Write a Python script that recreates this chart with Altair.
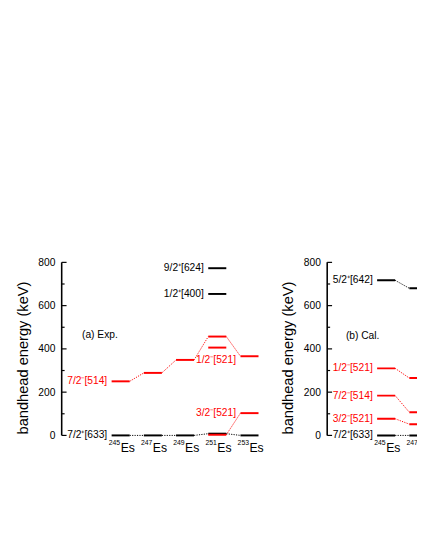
import altair as alt
import pandas as pd

FONT = "Liberation Sans"
RED = "#ff0000"
BLACK = "#000000"

# ---------------- data ----------------
NUCLEI_A = ["245", "247", "249", "251", "253"]
NUCLEI_B = ["245", "247"]

# (a) Exp.  bandhead energies (keV); None = level not shown
EXP_633 = [0, 0, 0, 8, 0]            # 7/2+[633]
EXP_514 = [250, 289, 349, 457, 366]  # 7/2-[514] chain
EXP_521_3 = [None, None, None, 3, 103]  # 3/2-[521]
EXP_EXTRA = [None, None, None, 406, None]
EXP_624 = [None, None, None, 773, None]  # 9/2+[624]
EXP_400 = [None, None, None, 654, None]  # 1/2+[400]

# (b) Cal.
CAL_642 = [717, 680]   # 5/2+[642]
CAL_521_1 = [310, 265]  # 1/2-[521]
CAL_514 = [184, 107]   # 7/2-[514]
CAL_521_3 = [77, 52]   # 3/2-[521]
CAL_633 = [0, 0]       # 7/2+[633]

# series: (label, values, colour, index of labelled level or None, connected)
SERIES_A = [
    ("7/2⁺[633]", EXP_633, BLACK, 0, True),
    ("7/2⁻[514]", EXP_514, RED, 0, True),
    ("", EXP_EXTRA, RED, None, False),
    ("3/2⁻[521]", EXP_521_3, RED, 4, True),
    ("9/2⁺[624]", EXP_624, BLACK, 3, False),
    ("1/2⁺[400]", EXP_400, BLACK, 3, False),
]
NOTES_A = [("1/2⁻[521]", 4, 349, RED)]

SERIES_B = [
    ("5/2⁺[642]", CAL_642, BLACK, 0, True),
    ("7/2⁺[633]", CAL_633, BLACK, 0, True),
    ("1/2⁻[521]", CAL_521_1, RED, 0, True),
    ("7/2⁻[514]", CAL_514, RED, 0, True),
    ("3/2⁻[521]", CAL_521_3, RED, 0, True),
]

MAJOR_TICKS = [0, 200, 400, 600, 800]
MINOR_TICKS = [100, 300, 500, 700]

HALF = 0.28
X_MIN = -1.83
Y_MIN = -80
Y_MAX = 800
PLOT_H = 195


def build_panel(nuclei, series, notes, tag, tag_xy, width, x_max, clip):
    lv, cn, lb = [], [], []
    for name, vals, col, lab_i, conn in series:
        for i, v in enumerate(vals):
            if v is None:
                continue
            lv.append({"x1": i - HALF, "x2": i + HALF, "e": v, "c": col})
        if conn:
            for i in range(len(vals) - 1):
                if vals[i] is None or vals[i + 1] is None:
                    continue
                cn.append({"x1": i + HALF, "x2": i + 1 - HALF,
                           "e1": vals[i], "e2": vals[i + 1], "c": col})
        if lab_i is not None:
            lb.append({"x": lab_i - HALF, "e": vals[lab_i], "t": name, "c": col})
    for t, i, e, col in notes:
        lb.append({"x": i - HALF, "e": e, "t": t, "c": col})
    lv, cn, lb = pd.DataFrame(lv), pd.DataFrame(cn), pd.DataFrame(lb)
    nu = pd.DataFrame({"x": list(range(len(nuclei))), "sup": nuclei, "el": ["Es"] * len(nuclei)})

    xs = alt.Scale(domain=[X_MIN, x_max], nice=False, zero=False)
    ys = alt.Scale(domain=[Y_MIN, Y_MAX], nice=False, zero=False)
    yax = alt.Axis(values=MAJOR_TICKS, domain=False, ticks=False, grid=False,
                   labelFont=FONT, labelFontSize=10.5, labelColor=BLACK, labelPadding=7,
                   title="bandhead energy (keV)", titleFont=FONT, titleFontSize=15,
                   titleFontWeight="normal", titleColor=BLACK, titlePadding=8, format="d")
    X = lambda f: alt.X(f, scale=xs, axis=None)
    Y = lambda f: alt.Y(f, scale=ys, axis=yax)

    axis_line = alt.Chart(pd.DataFrame({"a": [0], "b": [Y_MAX]})).mark_rule(
        strokeWidth=1.6, color=BLACK).encode(x=alt.value(0), y=Y("a:Q"), y2="b:Q")
    major = alt.Chart(pd.DataFrame({"v": MAJOR_TICKS})).mark_rule(
        strokeWidth=1.2, color=BLACK).encode(x=alt.value(0), x2=alt.value(5), y=Y("v:Q"))
    minor = alt.Chart(pd.DataFrame({"v": MINOR_TICKS})).mark_rule(
        strokeWidth=1.2, color=BLACK).encode(x=alt.value(0), x2=alt.value(3), y=Y("v:Q"))

    conn = alt.Chart(cn).mark_rule(strokeWidth=1, strokeDash=[1.2, 1.3], clip=clip).encode(
        x=X("x1:Q"), x2="x2:Q", y=Y("e1:Q"), y2="e2:Q", color=alt.Color("c:N", scale=None))
    levels = alt.Chart(lv).mark_rule(strokeWidth=2, clip=clip).encode(
        x=X("x1:Q"), x2="x2:Q", y=Y("e:Q"), color=alt.Color("c:N", scale=None))
    labels = alt.Chart(lb).mark_text(align="right", baseline="middle", dx=-4.5,
                                     font=FONT, fontSize=10.5, clip=clip).encode(
        x=X("x:Q"), y=Y("e:Q"), text="t:N", color=alt.Color("c:N", scale=None))
    es = alt.Chart(nu).mark_text(align="left", baseline="alphabetic", dy=16.5,
                                 font=FONT, fontSize=12.5, color=BLACK, clip=clip).encode(
        x=X("x:Q"), y=alt.Y(datum=0, scale=ys, axis=yax), text="el:N")
    sup = alt.Chart(nu).mark_text(align="right", baseline="alphabetic", dy=9.5, dx=-0.5,
                                  font=FONT, fontSize=7, color=BLACK, clip=clip).encode(
        x=X("x:Q"), y=alt.Y(datum=0, scale=ys, axis=yax), text="sup:N")
    tag_t = alt.Chart(pd.DataFrame({"x": [tag_xy[0]], "e": [tag_xy[1]], "t": [tag]})).mark_text(
        align="left", baseline="middle", font=FONT, fontSize=10.5, color=BLACK).encode(
        x=X("x:Q"), y=Y("e:Q"), text="t:N")

    return alt.layer(axis_line, major, minor, conn, levels, labels, es, sup, tag_t).properties(
        width=width, height=PLOT_H)


panel_a = build_panel(NUCLEI_A, SERIES_A, NOTES_A, "(a) Exp.", (-1.2, 462),
                      214, X_MIN + 214 / 33.0, False)
panel_b = build_panel(NUCLEI_B, SERIES_B, [], "(b) Cal.", (-1.25, 457),
                      92, X_MIN + 92 / 33.0, True)

chart = alt.hconcat(panel_a, panel_b, spacing=58, bounds="flush").properties(
    padding={"left": 7, "top": 250, "right": 0, "bottom": 5}
).configure_view(stroke=None)

chart.save("out.html", embed_options={"renderer": "svg", "actions": False})
